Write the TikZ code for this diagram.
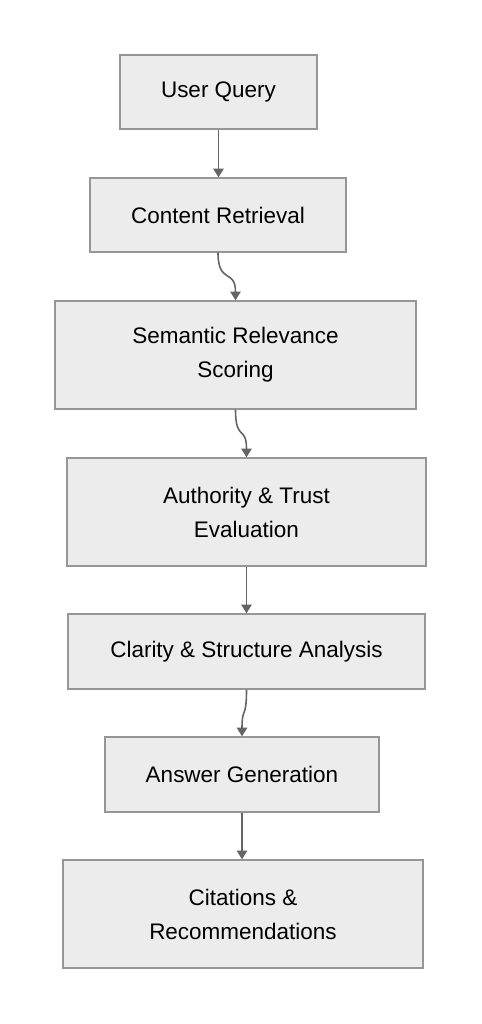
\documentclass[tikz,border=0pt]{standalone}
\usepackage{fontspec}
\setmainfont{Liberation Sans}
\usetikzlibrary{arrows,arrows.meta}
\definecolor{kasten}{RGB}{236,236,236}
\definecolor{rand}{RGB}{150,150,150}
\definecolor{pfeil}{RGB}{100,100,100}

\begin{document}
\begin{tikzpicture}[x=0.02cm,y=-0.02cm,
	kasten/.style={draw=rand,fill=kasten,line width=0.8pt,inner sep=0pt,align=center,font=\fontsize{12.8}{19.4}\selectfont},
	pf/.style={pfeil,line width=0.9pt,-{Triangle[length=5pt,width=6pt]}}]
	\useasboundingbox (0,0) rectangle (482,1024);
	\node[kasten,minimum width=3.94cm,minimum height=1.48cm] (Q) at (218.5,92) {User Query};
	\node[kasten,minimum width=5.12cm,minimum height=1.48cm] (R) at (218,215) {Content Retrieval};
	\node[kasten,minimum width=7.22cm,minimum height=2.16cm] (S) at (235.5,355) {Semantic Relevance\\Scoring};
	\node[kasten,minimum width=7.18cm,minimum height=2.16cm] (A) at (246.5,512) {Authority \& Trust\\Evaluation};
	\node[kasten,minimum width=7.14cm,minimum height=1.5cm] (C) at (246.5,651.5) {Clarity \& Structure Analysis};
	\node[kasten,minimum width=5.48cm,minimum height=1.5cm] (G) at (242,774.5) {Answer Generation};
	\node[kasten,minimum width=7.2cm,minimum height=2.16cm] (Z) at (243,914) {Citations \&\\Recommendations};
	
	\draw[pf] (Q.south) -- (Q.south |- R.north);
	\draw[pf] (R.south) .. controls +(0,32) and +(0,-32) .. (S.north);
	\draw[pf] (S.south) .. controls +(0,32) and +(0,-32) .. (A.north);
	\draw[pf] (A.south) -- (A.south |- C.north);
	\draw[pf] (C.south) .. controls +(0,30) and +(0,-30) .. (G.north);
	\draw[pf] (G.south) -- (G.south |- Z.north);
\end{tikzpicture}
\end{document}
